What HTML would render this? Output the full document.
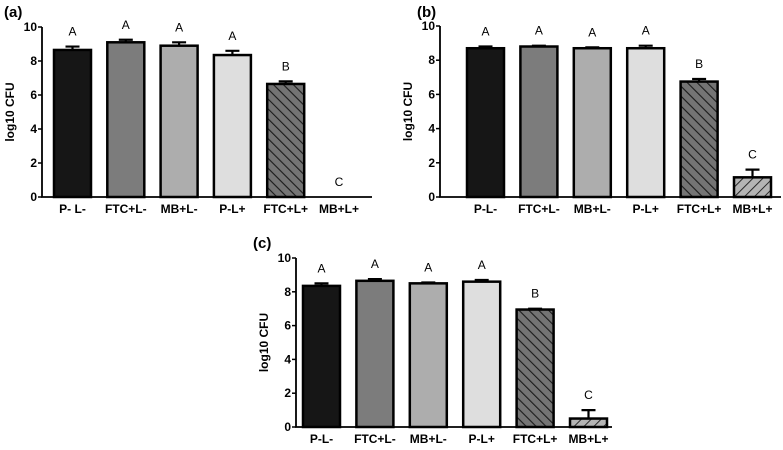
<!DOCTYPE html>
<html><head><meta charset="utf-8"><style>
body{margin:0;background:#fff;}
svg{display:block;font-family:"Liberation Sans",Arial,sans-serif;}
</style></head><body>
<svg id="chart" width="783" height="450" viewBox="0 0 783 450">
<defs>
<pattern id="hatchA" patternUnits="userSpaceOnUse" width="7" height="7" patternTransform="rotate(-45)">
<rect width="7" height="7" fill="#747474"/><line x1="0" y1="0" x2="0" y2="7" stroke="#1a1a1a" stroke-width="2.2"/>
</pattern>
<pattern id="hatchB" patternUnits="userSpaceOnUse" width="7" height="7" patternTransform="rotate(45)">
<rect width="7" height="7" fill="#b4b4b4"/><line x1="0" y1="0" x2="0" y2="7" stroke="#2a2a2a" stroke-width="2"/>
</pattern>
</defs>
</svg>
<script>
const categories=["P- L-","FTC+L-","MB+L-","P-L+","FTC+L+","MB+L+"];
const categoriesBC=["P-L-","FTC+L-","MB+L-","P-L+","FTC+L+","MB+L+"];
const valuesA=[8.65,9.1,8.9,8.35,6.65,0];
const errTopA=[8.85,9.25,9.1,8.6,6.8,null];
const valuesB=[8.7,8.8,8.7,8.7,6.75,1.15];
const errTopB=[8.8,8.85,8.75,8.85,6.9,1.6];
const valuesC=[8.35,8.65,8.5,8.6,6.95,0.5];
const errTopC=[8.5,8.75,8.55,8.7,7.0,1.0];
const lettersA=["A","A","A","A","B","C"];
const lettersB=["A","A","A","A","B","C"];
const lettersC=["A","A","A","A","B","C"];
const yTicks=[0,2,4,6,8,10];
const fills=["#161616","#7c7c7c","#adadad","#dedede","url(#hatchA)","url(#hatchB)"];
const svg=document.getElementById('chart');
const NS="http://www.w3.org/2000/svg";
function mk(tag,attrs,parent){const e=document.createElementNS(NS,tag);for(const k in attrs)e.setAttribute(k,attrs[k]);(parent||svg).appendChild(e);return e;}
function panel(id,cfg,cats,vals,errs,letters){
  const g=mk('g',{});
  
  
  const y=v=>cfg.y0-(cfg.y0-cfg.y10)*v/10;
  const x=i=>cfg.first+i*cfg.step;
  const t=mk('text',{x:cfg.lx,y:cfg.ly,'font-size':15,'font-weight':'bold'},g);t.textContent='('+id+')';
  
  
  const yl=mk('text',{transform:`translate(${cfg.ax-28},${(cfg.y0+cfg.y10)/2}) rotate(-90)`,'text-anchor':'middle','font-size':12,'font-weight':'bold'},g);yl.textContent='log10 CFU';
  
  
  vals.forEach((v,i)=>{
    const bx=x(i);
    if(errs[i]!=null){
      const cx=bx+cfg.bw/2;
      const el=mk('path',{d:`M${cx} ${y(v)} V${y(errs[i])} M${cx-7} ${y(errs[i])} H${cx+7}`,stroke:'#000','stroke-width':2.2,fill:'none'},g);
      
      
    }
    if(v>0){
      const r=mk('rect',{x:bx,y:y(v),width:cfg.bw,height:cfg.y0-y(v),fill:fills[i],stroke:'#000','stroke-width':2.5},g);
      
      
    }
    const top=errs[i]!=null?errs[i]:v;
    const lt=mk('text',{x:bx+cfg.bw/2,y:y(top)-11,'text-anchor':'middle','font-size':12},g);lt.textContent=letters[i];
    
    
    const xl=mk('text',{x:bx+cfg.bw/2,y:cfg.y0+16,'text-anchor':'middle','font-size':12,'font-weight':'bold'},g);xl.textContent=cats[i];
    
    
  });
  const ax=mk('path',{d:`M${cfg.ax} ${cfg.y10} V${cfg.y0} H${cfg.xEnd}`,stroke:'#000','stroke-width':1.8,fill:'none'},g);
  
  
  yTicks.forEach(v=>{
    mk('line',{x1:cfg.ax-4,x2:cfg.ax,y1:y(v),y2:y(v),stroke:'#000','stroke-width':1.5},g);
    const tt=mk('text',{x:cfg.ax-5,y:y(v)+4,'text-anchor':'end','font-size':12,'font-weight':'bold'},g);tt.textContent=v;
    
    
  });
}
panel('a',{ax:42,y0:197,y10:27,first:54,bw:37,step:53.3,xEnd:372,lx:4,ly:17},categories,valuesA,errTopA,lettersA);
panel('b',{ax:440,y0:197,y10:26,first:467,bw:37,step:53.4,xEnd:781,lx:417,ly:17},categoriesBC,valuesB,errTopB,lettersB);
panel('c',{ax:296,y0:427,y10:258,first:303,bw:37,step:53.4,xEnd:612,lx:253,ly:248},categoriesBC,valuesC,errTopC,lettersC);
</script>
</body></html>
